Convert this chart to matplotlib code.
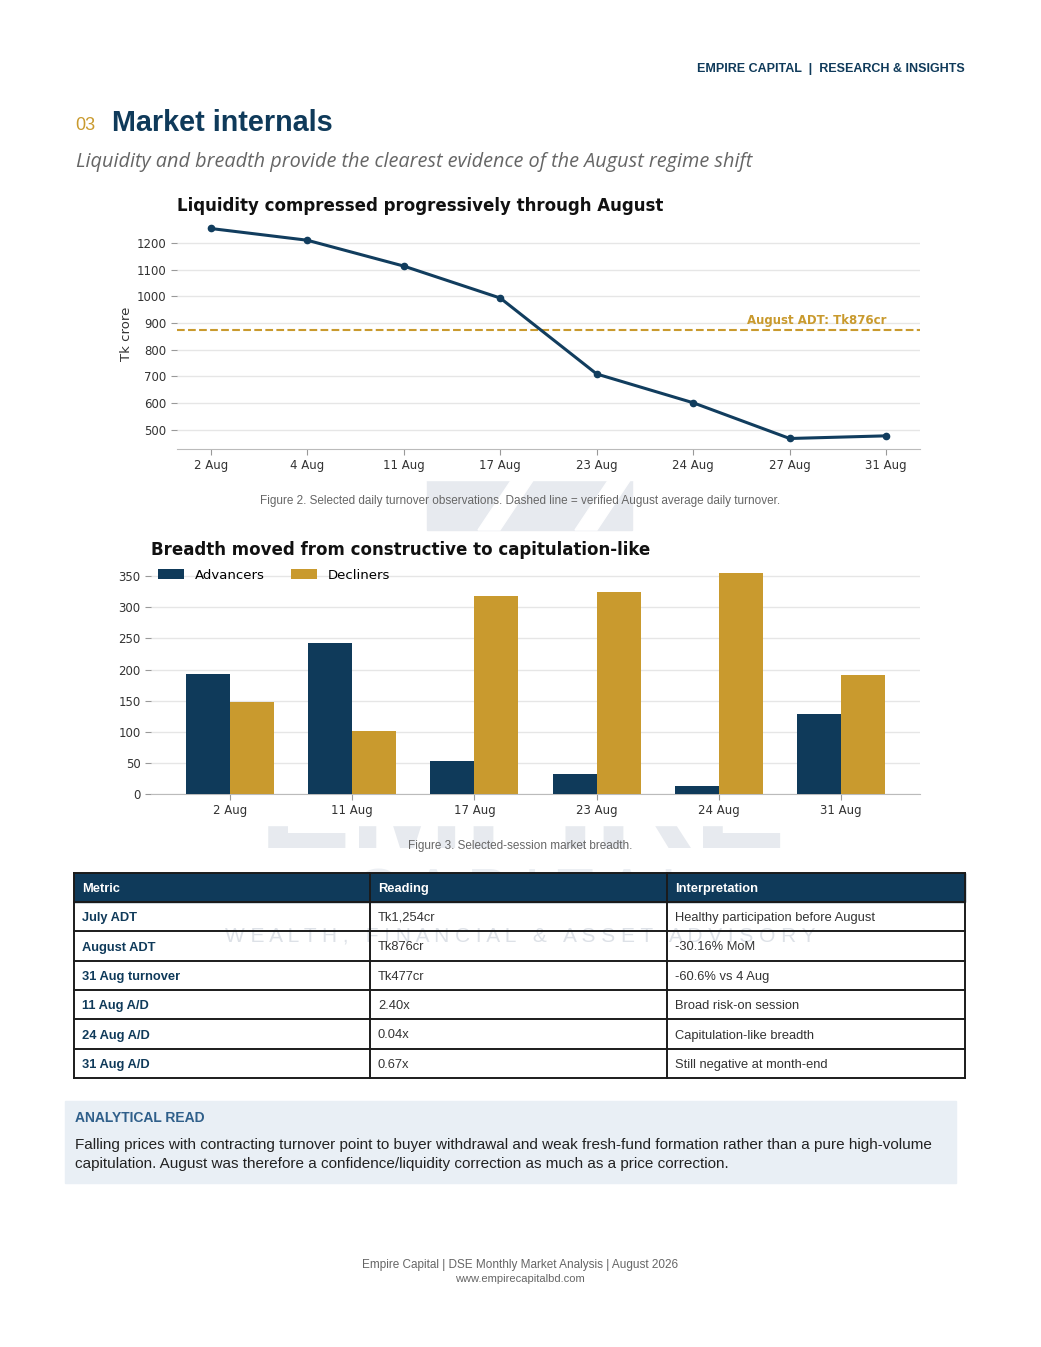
import numpy as np
import matplotlib
matplotlib.use("Agg")
import matplotlib.pyplot as plt
from matplotlib.patches import Rectangle, Polygon

# ---- data ----
turn_dates = ["2 Aug", "4 Aug", "11 Aug", "17 Aug", "23 Aug", "24 Aug", "27 Aug", "31 Aug"]
turnover = [1255, 1211, 1114, 994, 709, 601, 467, 477]
aug_adt = 876

breadth_dates = ["2 Aug", "11 Aug", "17 Aug", "23 Aug", "24 Aug", "31 Aug"]
advancers = [193, 242, 53, 32, 13, 128]
decliners = [148, 101, 318, 324, 355, 191]

tbl_head = ["Metric", "Reading", "Interpretation"]
tbl_metric = ["July ADT", "August ADT", "31 Aug turnover", "11 Aug A/D", "24 Aug A/D", "31 Aug A/D"]
tbl_reading = ["Tk1,254cr", "Tk876cr", "Tk477cr", "2.40x", "0.04x", "0.67x"]
tbl_interp = ["Healthy participation before August", "-30.16% MoM", "-60.6% vs 4 Aug",
              "Broad risk-on session", "Capitulation-like breadth", "Still negative at month-end"]

NAVY = "#0f3a5a"
GOLD = "#c99a2e"
W, H = 1041, 1347

fig = plt.figure(figsize=(W / 100, H / 100), dpi=100)
fig.patch.set_facecolor("white")

# page layer in pixel coords
pg = fig.add_axes([0, 0, 1, 1], zorder=0)
pg.set_xlim(0, W)
pg.set_ylim(H, 0)
pg.axis("off")

SANS = "Liberation Sans"

pg.text(965, 69, "EMPIRE CAPITAL  |  RESEARCH & INSIGHTS", ha="right", va="center",
        fontsize=9, fontweight="bold", color=NAVY, family=SANS)
pg.text(75, 126, "03", ha="left", va="center", fontsize=13, color=GOLD, family=SANS)
pg.text(112, 123, "Market internals", ha="left", va="center", fontsize=20.7,
        fontweight="bold", color=NAVY, family=SANS)
pg.text(76, 162, "Liquidity and breadth provide the clearest evidence of the August regime shift",
        ha="left", va="center", fontsize=14.3, style="italic", color="#666666", family="Open Sans")

# watermark (faint logo + wordmark)
wm = "#e7eaef"
pg.add_patch(Rectangle((427, 470), 205, 60, color=wm, zorder=2))
pg.add_patch(Polygon([(478, 530), (500, 530), (540, 470), (518, 470)], color="white", zorder=2.1))
pg.add_patch(Polygon([(575, 530), (597, 530), (637, 470), (615, 470)], color="white", zorder=2.1))
pg.text(523, 848, "EMPIRE", ha="center", va="baseline", fontsize=99, fontweight="bold",
        color=wm, family=SANS, zorder=2)
pg.text(525, 912, "C A P I T A L", ha="center", va="baseline", fontsize=44,
        color="#eceff3", family=SANS, zorder=2)
pg.text(520, 936, "W E A L T H ,   F I N A N C I A L   &   A S S E T   A D V I S O R Y",
        ha="center", va="center", fontsize=15, color="#dde1e7", family=SANS, zorder=3.5)

# white areas behind the two charts (their image backgrounds)
pg.add_patch(Rectangle((100, 185), 850, 295, color="white", zorder=2.5))
pg.add_patch(Rectangle((100, 533), 850, 292, color="white", zorder=2.5))

pg.text(520, 501, "Figure 2. Selected daily turnover observations. Dashed line = verified August average daily turnover.",
        ha="center", va="center", fontsize=8.5, color="#666666", family=SANS, zorder=5)
pg.text(520, 846, "Figure 3. Selected-session market breadth.",
        ha="center", va="center", fontsize=8.5, color="#666666", family=SANS, zorder=5)

# ---- table ----
cols = [74, 370, 667, 965]
rows = [873, 902, 931, 961, 990, 1019, 1049, 1078]
pg.add_patch(Rectangle((cols[0], rows[1]), cols[-1] - cols[0], rows[-1] - rows[1],
                       color="white", zorder=3))
pg.add_patch(Rectangle((cols[0], rows[0]), cols[-1] - cols[0], rows[1] - rows[0],
                       color=NAVY, zorder=3))
for i, h in enumerate(tbl_head):
    pg.text(cols[i] + 8, (rows[0] + rows[1]) / 2, h, ha="left", va="center_baseline",
            fontsize=9.3, fontweight="bold", color="white", family=SANS, zorder=4)
for r in range(len(tbl_metric)):
    yc = (rows[r + 1] + rows[r + 2]) / 2
    pg.text(cols[0] + 8, yc, tbl_metric[r], ha="left", va="center_baseline", fontsize=9.3,
            fontweight="bold", color=NAVY, family=SANS, zorder=4)
    pg.text(cols[1] + 8, yc, tbl_reading[r], ha="left", va="center_baseline", fontsize=9.3,
            color="#333333", family=SANS, zorder=4)
    pg.text(cols[2] + 8, yc, tbl_interp[r], ha="left", va="center_baseline", fontsize=9.3,
            color="#333333", family=SANS, zorder=4)
for y in rows:
    pg.plot([cols[0], cols[-1]], [y, y], color="#1b1b1b", lw=1.4, zorder=4)
for x in cols:
    pg.plot([x, x], [rows[0], rows[-1]], color="#1b1b1b", lw=1.4, zorder=4)

# ---- analytical read box ----
pg.add_patch(Rectangle((65, 1101), 891, 82, color="#e9eff5", zorder=3))
pg.text(75, 1118, "ANALYTICAL READ", ha="left", va="center", fontsize=10, fontweight="bold",
        color="#2f5f8a", family=SANS, zorder=4)
pg.text(75, 1145, "Falling prices with contracting turnover point to buyer withdrawal and weak fresh-fund formation rather than a pure high-volume",
        ha="left", va="center", fontsize=11, color="#222222", family=SANS, zorder=4)
pg.text(75, 1164, "capitulation. August was therefore a confidence/liquidity correction as much as a price correction.",
        ha="left", va="center", fontsize=11, color="#222222", family=SANS, zorder=4)

pg.text(520, 1265, "Empire Capital | DSE Monthly Market Analysis | August 2026", ha="center",
        va="center", fontsize=8.5, color="#666666", family=SANS)
pg.text(520, 1279, "www.empirecapitalbd.com", ha="center", va="center", fontsize=8,
        color="#666666", family=SANS)

# ---- line chart ----
ax1 = fig.add_axes([177 / W, 1 - 449 / H, 743 / W, 231 / H], zorder=1)
ax1.patch.set_alpha(0)
x1 = np.arange(len(turn_dates))
ax1.plot(x1, turnover, color="#113d5e", lw=2.2, marker="o", ms=4.5, zorder=3)
ax1.axhline(aug_adt, color=GOLD, lw=1.5, ls="--", zorder=2)
ax1.text(x1[-1], aug_adt + 8, "August ADT: Tk876cr", ha="right", va="bottom", fontsize=8.5,
         fontweight="bold", color=GOLD)
ax1.set_xticks(x1)
ax1.set_xticklabels(turn_dates)
ax1.set_yticks([500, 600, 700, 800, 900, 1000, 1100, 1200])
ax1.grid(axis="y", color="#e6e6e6", lw=1)
ax1.set_axisbelow(True)
for s in ["left", "top", "right"]:
    ax1.spines[s].set_visible(False)
ax1.spines["bottom"].set_color("#bbbbbb")
ax1.tick_params(axis="both", labelsize=8.5, colors="#333333", length=4, color="#999999")
ax1.set_ylabel("Tk crore", fontsize=9.5, color="#333333", labelpad=3)
ax1.set_title("Liquidity compressed progressively through August", loc="left",
              fontsize=12, fontweight="bold", color="#111111", pad=5)

# ---- bar chart ----
ax2 = fig.add_axes([151 / W, 1 - 794 / H, 769 / W, 232 / H], zorder=1)
ax2.patch.set_alpha(0)
x2 = np.arange(len(breadth_dates))
bw = 0.36
ax2.bar(x2 - bw / 2, advancers, bw, color=NAVY, label="Advancers", zorder=3)
ax2.bar(x2 + bw / 2, decliners, bw, color=GOLD, label="Decliners", zorder=3)
ax2.set_xticks(x2)
ax2.set_xticklabels(breadth_dates)
ax2.set_yticks(range(0, 351, 50))
ax2.grid(axis="y", color="#e6e6e6", lw=1)
ax2.set_axisbelow(True)
for s in ["left", "top", "right"]:
    ax2.spines[s].set_visible(False)
ax2.spines["bottom"].set_color("#bbbbbb")
ax2.tick_params(axis="both", labelsize=8.5, colors="#333333", length=4, color="#999999")
ax2.legend(loc="upper left", ncol=2, frameon=False, fontsize=9.5, borderaxespad=0.1,
           handlelength=2.0, columnspacing=2.0)
ax2.set_title("Breadth moved from constructive to capitulation-like", loc="left",
              fontsize=12, fontweight="bold", color="#111111", pad=5)

fig.savefig("out.png", dpi=100)
